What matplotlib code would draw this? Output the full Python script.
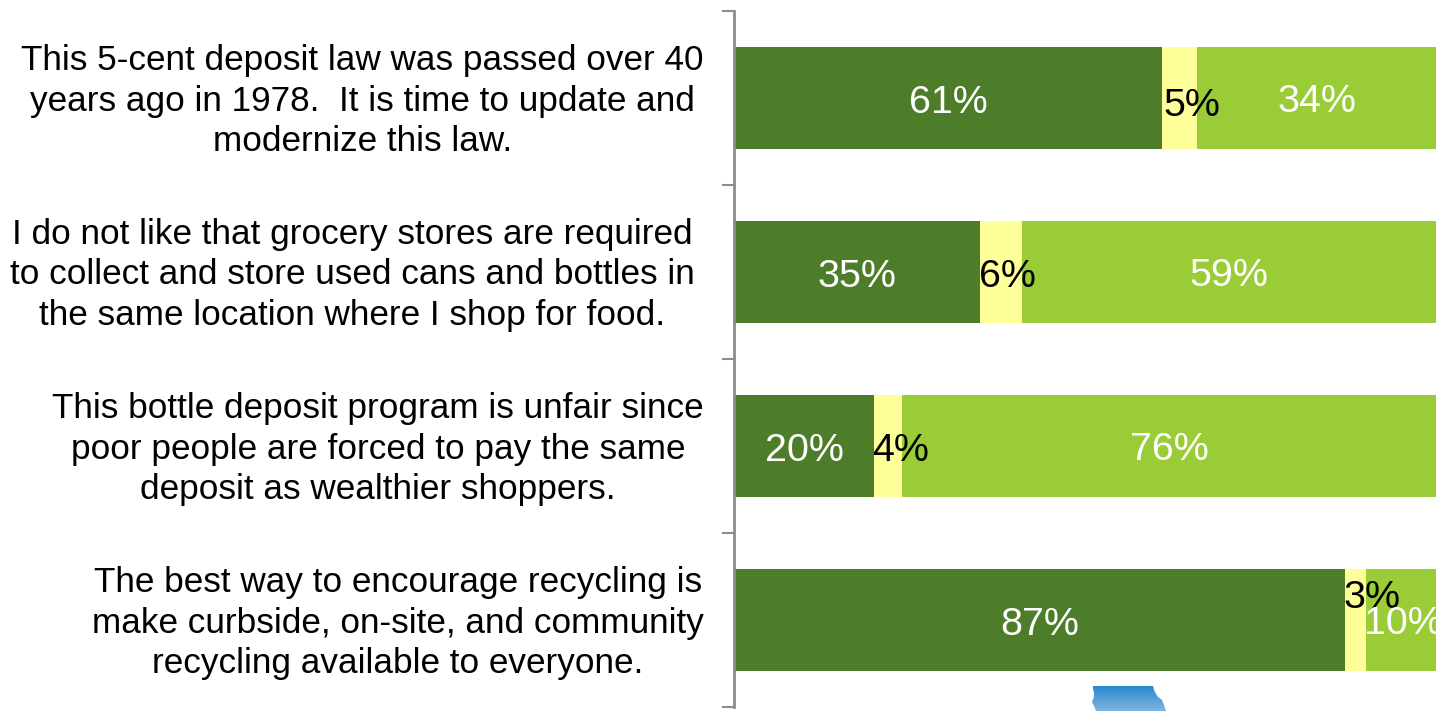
import numpy as np
import matplotlib
matplotlib.use("Agg")
import matplotlib.pyplot as plt
from matplotlib.patches import Polygon

plt.rcParams['font.family'] = ['Liberation Sans', 'DejaVu Sans']

statements = [
    "This 5-cent deposit law was passed over 40\nyears ago in 1978.  It is time to update and\nmodernize this law.",
    "I do not like that grocery stores are required\nto collect and store used cans and bottles in\nthe same location where I shop for food.",
    "This bottle deposit program is unfair since\npoor people are forced to pay the same\ndeposit as wealthier shoppers.",
    "The best way to encourage recycling is\nmake curbside, on-site, and community\nrecycling available to everyone.",
]
agree = [61, 35, 20, 87]
unsure = [5, 6, 4, 3]
disagree = [34, 59, 76, 10]

W, H = 1437, 711
fig = plt.figure(figsize=(W / 100, H / 100), dpi=100)
ax = fig.add_axes([734 / W, 1 - 707 / H, 702 / W, 696 / H])

y = np.arange(len(statements)) + 0.5
agree_a = np.array(agree)
unsure_a = np.array(unsure)
disagree_a = np.array(disagree)
h = 102 / 174
ax.barh(y, agree_a, height=h, color='#4E7D2A', linewidth=0)
ax.barh(y, unsure_a, left=agree_a, height=h, color='#FFFF99', linewidth=0)
ax.barh(y, disagree_a, left=agree_a + unsure_a, height=h, color='#99CC37', linewidth=0)

ax.set_xlim(0, 100)
ax.set_ylim(4, 0)
for s in ('top', 'right', 'bottom'):
    ax.spines[s].set_visible(False)
ax.spines['left'].set_color('#8C8C8C')
ax.spines['left'].set_linewidth(2.0)
ax.xaxis.set_visible(False)
ax.set_yticks(range(5))
ax.set_yticklabels([])
ax.tick_params(axis='y', length=8.5, width=1.5, color='#8C8C8C', direction='out')

kw = dict(va='center', ha='center', fontsize=28.4, linespacing=1.0)
unsure_dx = [1.7, 0.9, 1.7, 2.4]
unsure_dy = [0.02, 0.0, 0.0, -0.15]
disagree_dx = [0, 0, 0, 0.4]
for i in range(len(statements)):
    ax.text(agree_a[i] / 2, y[i] + 0.026, f"{agree[i]}%", color='white', clip_on=True, **kw)
    ax.text(agree_a[i] + unsure_a[i] / 2 + unsure_dx[i], y[i] + unsure_dy[i] + 0.026,
            f"{unsure[i]}%", color='black', clip_on=True, **kw)
    ax.text(agree_a[i] + unsure_a[i] + disagree_a[i] / 2 + disagree_dx[i], y[i] + 0.022,
            f"{disagree[i]}%", color='white', clip_on=True, **kw)

label_cx = [362.5, 352, 378, 398]
label_cy = [101, 275, 449, 623]
for s, cx, cy in zip(statements, label_cx, label_cy):
    fig.text(cx / W, 1 - cy / H, s, ha='center', va='center', fontsize=25.3,
             linespacing=1.27, color='black')

# small blue map decoration at the bottom
deco = fig.add_axes([0, 0, 1, 1], zorder=3)
deco.set_xlim(0, W)
deco.set_ylim(H, 0)
deco.axis('off')
deco.patch.set_alpha(0)
outline = [(1093, 686), (1153, 686), (1154, 690), (1156, 694), (1158, 697), (1162, 700),
           (1164, 705), (1166, 711), (1096, 711), (1094, 706), (1092, 702), (1094, 697),
           (1094, 692), (1093, 689)]
grad = np.linspace(0, 1, 40).reshape(-1, 1)
im = deco.imshow(grad, extent=(1090, 1167, 711, 685), aspect='auto',
                 cmap=matplotlib.colors.LinearSegmentedColormap.from_list('b', ['#2587CC', '#7DB6DF']))
im.set_clip_path(Polygon(outline, transform=deco.transData))
deco.set_xlim(0, W)
deco.set_ylim(H, 0)

fig.savefig('out.png', dpi=100)
